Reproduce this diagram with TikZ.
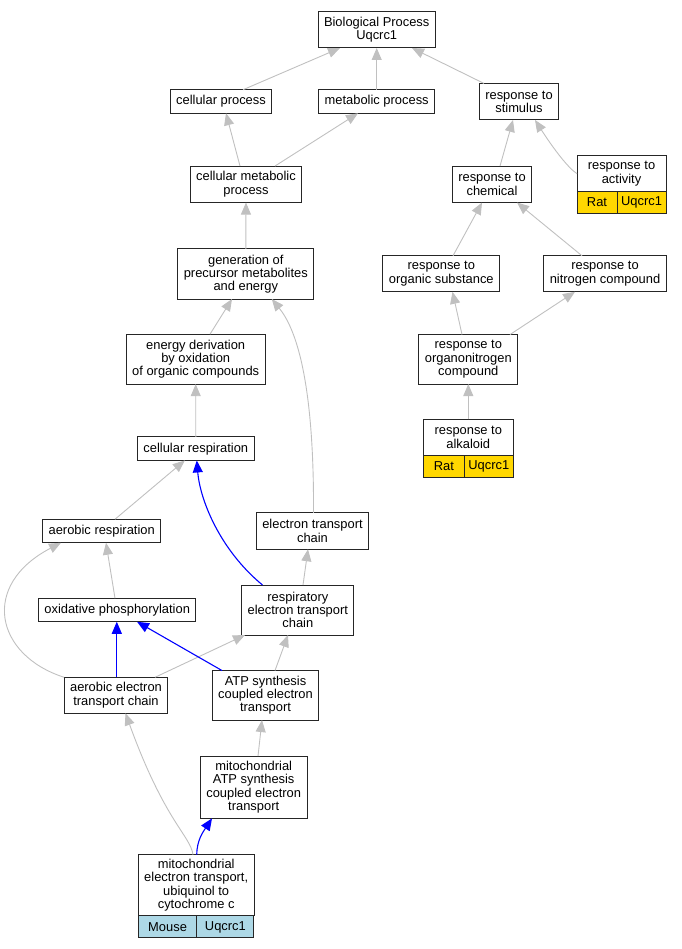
\documentclass[tikz,border=0pt]{standalone}
\usepackage{fontspec}
\setmainfont{Liberation Sans}
\usetikzlibrary{arrows.meta}

\definecolor{edgegray}{HTML}{C0C0C0}
\definecolor{ratgold}{HTML}{FFD700}
\definecolor{mouseblue}{HTML}{ADD8E6}
\newcommand{\termfont}{\fontsize{12.9}{13.3}\selectfont}

\tikzset{
  term/.style={draw=black!85, line width=1pt, fill=white, align=center,
    inner xsep=6pt, inner ysep=4pt, outer sep=0pt, minimum height=#1, font=\termfont},
  term/.default=23.5pt,
  cell/.style={draw=black!85, line width=1pt, anchor=north west, outer sep=0pt,
    minimum height=21.5pt, inner sep=0pt, font=\termfont},
  isa/.style={draw=edgegray, line width=0.9pt, -{Triangle[length=12pt,width=10pt,fill=edgegray]}},
  hit/.style={draw=blue, line width=1.1pt, -{Triangle[length=12pt,width=10pt,fill=blue]}}
}

\begin{document}
\begin{tikzpicture}[x=1pt,y=-1pt]
    \useasboundingbox (0,0) rectangle (681,949);

    % Radice
    \node[term=36pt] (bp) at (376.7,30) {Biological Process\\Uqcrc1};

    % Livello 1
    \node[term] (cp) at (221,101.5) {cellular process};
    \node[term] (mp) at (376.7,101.5) {metabolic process};
    \node[term=36.5pt] (rs) at (519,101.7) {response to\\stimulus};

    % Livello 2
    \node[term=36.5pt] (cmp) at (246,184.3) {cellular metabolic\\process};
    \node[term=36.5pt] (rc) at (492,184.3) {response to\\chemical};
    \node[term=36pt, minimum width=89pt] (act) at (621.5,173.7) {response to\\activity};
    \node[cell, fill=ratgold, minimum width=40pt] (actrat) at (act.south west) {Rat};
    \node[cell, fill=ratgold, minimum width=49pt] (actgene) at (actrat.north east) {Uqcrc1};

    % Livello 3
    \node[term=50pt] (gen) at (245.8,274) {generation of\\precursor metabolites\\and energy};
    \node[term=36pt] (ros) at (441.3,273.8) {response to\\organic substance};
    \node[term=36pt] (rnc) at (605,273.8) {response to\\nitrogen compound};

    % Livello 4
    \node[term=50pt] (ed) at (195.7,359.2) {energy derivation\\by oxidation\\of organic compounds};
    \node[term=49.5pt] (ron) at (468.3,359.3) {response to\\organonitrogen\\compound};

    % Livello 5
    \node[term] (cr) at (195.8,448.7) {cellular respiration};
    \node[term=36.4pt, minimum width=90pt] (alk) at (468.3,437.5) {response to\\alkaloid};
    \node[cell, fill=ratgold, minimum width=41pt] (alkrat) at (alk.south west) {Rat};
    \node[cell, fill=ratgold, minimum width=49pt] (alkgene) at (alkrat.north east) {Uqcrc1};

    % Respirazione
    \node[term] (aresp) at (101.7,531) {aerobic respiration};
    \node[term=36.5pt] (etc) at (312.5,531) {electron transport\\chain};
    \node[term=50pt] (retc) at (297.8,610) {respiratory\\electron transport\\chain};
    \node[term] (oxp) at (117.2,610) {oxidative phosphorylation};
    \node[term=36pt] (aetc) at (116,695.3) {aerobic electron\\transport chain};
    \node[term=49.5pt] (atp) at (265.5,695.3) {ATP synthesis\\coupled electron\\transport};
    \node[term=62.3pt] (matp) at (253.7,787.2) {mitochondrial\\ATP synthesis\\coupled electron\\transport};

    % Termine annotato (Mouse)
    \node[term=61.3pt, minimum width=115.7pt] (mito) at (196.2,885.3) {mitochondrial\\electron transport,\\ubiquinol to\\cytochrome c};
    \node[cell, fill=mouseblue, minimum width=58.7pt, minimum height=22pt] (mitomouse) at (mito.south west) {Mouse};
    \node[cell, fill=mouseblue, minimum width=57pt, minimum height=22pt] (mitogene) at (mitomouse.north east) {Uqcrc1};

    % Archi is_a (grigi)
    \draw[isa] ([xshift=22pt]cp.north) -- ([xshift=-36.7pt]bp.south);
    \draw[isa] (mp.north) -- (bp.south);
    \draw[isa] ([xshift=-35pt]rs.north) -- ([xshift=35.3pt]bp.south);
    \draw[isa] ([xshift=-6pt]cmp.north) -- ([xshift=5pt]cp.south);
    \draw[isa] ([xshift=29pt]cmp.north) -- ([xshift=-18.7pt]mp.south);
    \draw[isa] ([xshift=8pt]rc.north) -- ([xshift=-6pt]rs.south);
    \draw[isa] (act.west) .. controls (568,168) and (553,148) .. ([xshift=16pt]rs.south);
    \draw[isa] (gen.north) -- (cmp.south);
    \draw[isa] ([xshift=11.7pt]ros.north) -- ([xshift=-10pt]rc.south);
    \draw[isa] ([xshift=-23pt]rnc.north) -- ([xshift=25pt]rc.south);
    \draw[isa] ([xshift=14.3pt]ed.north) -- ([xshift=-13.8pt]gen.south);
    \draw[isa] ([xshift=1pt]etc.north) .. controls (314,420) and (305,340) .. ([xshift=26pt]gen.south);
    \draw[isa] ([xshift=-6.3pt]ron.north) -- ([xshift=11.2pt]ros.south);
    \draw[isa] ([xshift=41.7pt]ron.north) -- ([xshift=-30pt]rnc.south);
    \draw[isa] (cr.north) -- (ed.south);
    \draw[isa] (alk.north) -- (ron.south);
    \draw[isa] ([xshift=13.3pt]aresp.north) -- ([xshift=-11pt]cr.south);
    \draw[isa] ([xshift=5.2pt]retc.north) -- ([xshift=-4.5pt]etc.south);
    \draw[isa] ([xshift=-2.2pt]oxp.north) -- ([xshift=4.3pt]aresp.south);
    \draw[isa] (aetc.north west) .. controls (-5,655) and (-20,585) .. ([xshift=-40.7pt]aresp.south);
    \draw[isa] ([xshift=39pt]aetc.north) -- ([xshift=-52.8pt]retc.south);
    \draw[isa] ([xshift=9.5pt]atp.north) -- ([xshift=-9.8pt]retc.south);
    \draw[isa] ([xshift=4.3pt]matp.north) -- ([xshift=-3.5pt]atp.south);
    \draw[isa] ([xshift=-3.2pt]mito.north) .. controls (190,835) and (165,822) .. ([xshift=9.5pt]aetc.south);

    % Archi annotati (blu)
    \draw[hit] ([xshift=-35.3pt]retc.north) .. controls (220,550) and (200,500) .. ([xshift=1pt]cr.south);
    \draw[hit] ([xshift=0.8pt]aetc.north) -- ([xshift=-0.4pt]oxp.south);
    \draw[hit] ([xshift=-43.5pt]atp.north) -- ([xshift=19.8pt]oxp.south);
    \draw[hit] ([xshift=0.5pt]mito.north) .. controls (197,840) and (203,832) .. ([xshift=-41.7pt]matp.south);

\end{tikzpicture}
\end{document}
